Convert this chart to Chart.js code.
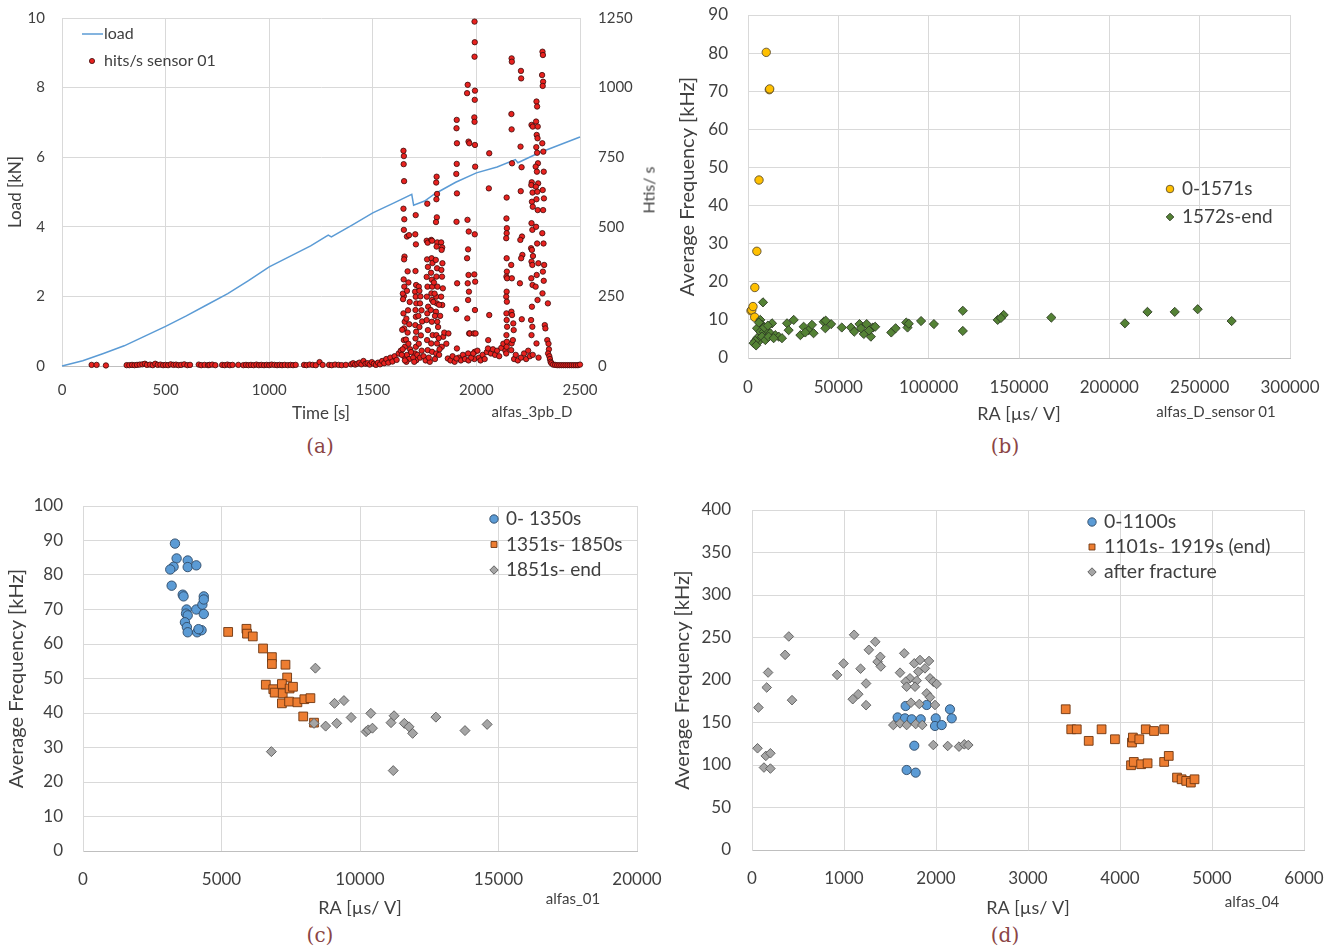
<!DOCTYPE html>
<html>
<head>
<meta charset="utf-8">
<script src="https://cdn.jsdelivr.net/npm/chart.js@4.4.0/dist/chart.umd.min.js"></script>
<style>
  body { margin: 0; background: #fff; width: 1338px; height: 948px; position: relative; overflow: hidden; font-family: Lato, sans-serif; color: #404040; }
  .panel { position: absolute; }
  .note { position: absolute; font-size: 15px; transform: translate(-50%, -50%); white-space: nowrap; }
  .cap { position: absolute; font-family: 'DejaVu Serif', serif; font-size: 20px; color: #8b4545; transform: translate(-50%, -50%); }
  .rot { position: absolute; font-size: 16px; white-space: nowrap; transform: translate(-50%, -50%) rotate(-90deg); }
</style>
</head>
<body>
<div class="panel" style="left:0;top:0"><canvas id="ca" width="670" height="430"></canvas></div>
<div class="panel" style="left:670px;top:0"><canvas id="cb" width="668" height="430"></canvas></div>
<div class="panel" style="left:0;top:480px"><canvas id="cc" width="670" height="440"></canvas></div>
<div class="panel" style="left:670px;top:480px"><canvas id="cd" width="668" height="440"></canvas></div>

<div class="rot" style="left:648px;top:190px">Htis/ s</div>
<div class="note" style="left:532px;top:411px">alfas_3pb_D</div>
<div class="note" style="left:1216px;top:411px">alfas_D_sensor 01</div>
<div class="note" style="left:573px;top:898px">alfas_01</div>
<div class="note" style="left:1252px;top:901px">alfas_04</div>
<div class="cap" style="left:320px;top:446px">(a)</div>
<div class="cap" style="left:1005px;top:446px">(b)</div>
<div class="cap" style="left:320px;top:935px">(c)</div>
<div class="cap" style="left:1005px;top:935px">(d)</div>

<script>
// (a) load curve and hit rate
const loadTime = [0, 100, 200, 300, 400, 500, 600, 700, 800, 900, 1000, 1100, 1200, 1285, 1300, 1400, 1500, 1600, 1688, 1697, 1750, 1800, 1900, 2000, 2100, 2188, 2200, 2300, 2400, 2500];
const loadKN   = [0, 0.15, 0.36, 0.58, 0.86, 1.14, 1.44, 1.76, 2.08, 2.45, 2.85, 3.15, 3.45, 3.76, 3.71, 4.05, 4.40, 4.68, 4.93, 4.62, 4.74, 4.95, 5.28, 5.55, 5.72, 5.93, 5.84, 6.12, 6.35, 6.58];

const hitsTime = [
  143,167,212,312,325,338,350,362,375,388,400,410,425,438,450,462,475,488,500,512,
  525,538,550,562,575,590,605,618,660,672,688,705,712,725,740,773,785,798,810,823,
  851,875,888,900,912,925,938,950,962,975,988,1000,1012,1025,1038,1050,1062,1075,1090,1103,
  1115,1128,1168,1180,1195,1210,1225,1243,1258,1289,1302,1318,1335,1350,1370,1395,1405,1415,1425,1435,
  1445,1455,1465,1475,1485,1495,1505,1515,1525,1535,1545,1555,1565,1575,1585,1595,1605,1615,1625,1635,
  1648,1650,1649,1651,1648,1652,1650,1653,1651,1649,1652,1650,1648,1654,1651,1650,1655,1652,1645,1646,
  1642,1644,1665,1675,1668,1672,1665,1678,1670,1662,1676,1668,1660,1672,1680,1665,1675,1662,1640,1655,
  1707,1705,1708,1706,1709,1704,1707,1710,1706,1708,1705,1709,1706,1708,1704,1710,1685,1695,1700,1715,
  1722,1725,1730,1728,1735,1720,1738,1725,1732,1722,1736,1728,1745,1755,1775,
  1763,1760,1765,1762,1766,1760,1764,1761,1767,1763,1760,1766,1762,1765,1770,
  1782,1786,1784,1788,1781,1785,1787,1783,1786,1780,1785,1789,1782,1786,
  1808,1806,1810,1807,1809,1805,1811,1808,1804,1810,1807,1812,1806,1809,1805,1811,1807,1810,1806,
  1830,1835,1832,1836,1831,1834,1838,1830,1835,1840,1833,1795,1798,1792,1800,1820,1825,1815,1818,1822,
  1845,1855,1800,1820,1865,1862,1875,1885,1895,1915,1925,1935,1945,
  1905,1904,1906,1905,1903,1906,1904,1907,1903,1906,1904,
  1958,1955,1962,1966,1957,1963,1960,1955,1962,1958,1964,1960,1956,1965,1968,1960,1962,
  1991,1992,1991,1993,1992,1990,1991,1993,1994,1992,1990,1994,1993,1988,1996,1992,1990,
  1975,1985,2005,2012,2020,2030,2040,2050,2062,2060,2062,2057,2056,2070,2080,2090,2100,2110,2120,2130,
  2140,2146,2145,2147,2146,2144,2146,2147,2145,2148,2146,2144,2147,2145,2146,2148,2145,2147,2146,2144,
  2170,2171,2169,2170,2172,2168,2171,2169,2172,2170,2168,2178,2180,2176,2182,2190,2200,
  2215,2216,2213,2218,2214,2220,2212,2222,2216,2210,2219,2215,2230,2240,2250,2258,
  2266,2272,2267,2271,2265,2268,2272,2266,2270,2264,2268,2273,2266,2270,2265,2271,2268,2264,2270,2266,2272,
  2290,2293,2288,2296,2291,2295,2289,2293,2297,2286,2292,2298,2287,2294,2290,2296,2288,2293,2299,2291,2286,2295,2290,2300,
  2319,2321,2317,2322,2320,2318,2323,2325,2320,2326,2322,2318,2324,2327,2321,2325,2319,2330,2333,
  2345,2342,2348,2350,2346,2352,2355,2358,2362,2370,2380,2390,2400,2410,2420,2430,2440,2450,2460,2470,2480,2490,2500
];
const hitsRate = [
  4,4,2,3,3,4,3,4,5,6,8,4,5,3,8,4,5,3,4,3,
  6,4,5,3,4,6,3,4,5,3,4,3,4,5,3,4,3,5,3,4,
  4,3,4,3,4,3,5,3,4,3,4,3,5,4,3,4,3,4,3,4,
  3,4,4,3,5,4,3,14,4,4,3,5,4,3,4,6,10,5,8,12,
  6,18,8,10,5,14,8,4,12,6,18,10,25,12,30,16,35,22,45,55,
  773,754,725,664,565,527,489,393,383,311,285,251,189,159,135,93,69,34,260,240,
  130,60,465,470,340,300,270,230,200,170,150,120,95,80,60,40,25,15,40,20,
  542,473,437,341,291,267,249,225,201,177,147,123,99,69,45,21,50,30,15,40,
  285,270,250,225,200,180,160,140,110,80,55,30,35,20,15,
  583,450,443,383,356,320,285,249,213,189,165,129,93,57,30,
  453,450,387,370,335,310,285,261,237,201,159,111,81,51,
  680,659,618,599,534,517,444,429,381,351,321,285,249,225,195,159,111,81,45,
  444,426,417,369,345,321,279,249,219,105,69,300,260,230,180,220,180,140,100,60,
  120,80,25,40,117,27,20,35,15,30,20,40,25,
  884,854,800,726,690,620,518,297,204,63,27,
  1010,980,806,800,525,483,419,387,327,297,267,237,171,117,117,45,20,
  1237,1163,1111,989,956,893,877,794,716,473,329,303,201,117,117,51,25,
  30,45,55,30,20,40,25,50,764,638,183,93,63,45,60,40,55,35,65,80,
  55,605,530,495,477,459,387,339,321,315,267,249,231,189,165,141,111,87,69,45,
  1105,1093,905,850,728,363,315,195,183,81,57,153,129,93,25,40,20,
  1060,1033,788,714,628,465,453,399,387,297,168,30,45,25,55,35,
  866,860,660,623,650,590,572,513,489,423,417,395,375,363,315,291,213,165,141,111,40,
  950,932,878,860,830,818,786,766,728,716,698,656,644,626,599,560,500,440,369,327,285,237,81,30,
  1129,1117,1045,1021,1006,800,770,698,632,602,560,477,440,363,339,306,261,147,135,
  225,93,80,60,45,35,25,15,10,5,4,3,3,3,3,3,3,3,3,3,3,3,5
];

// (b) average frequency vs RA, sensor 01
const bEarlyRA = [1660, 2100, 2770, 3700, 3770, 4900, 6100, 10100, 11800, 12000];
const bEarlyAF = [12.4, 12.6, 13.5, 10.7, 18.5, 28, 46.7, 80.2, 70.4, 70.6];
const bLateRA = [8300, 6800, 7750, 13300, 5000, 6800, 8700, 10500, 12300, 15100, 17000, 18800, 5000, 5900, 4000, 7750, 9600, 11400, 14200, 3100,
  4500, 6000, 9000, 11000, 21600, 25300, 22500, 30800, 29000, 33600, 35400, 41900, 42800, 31700, 36300, 46000, 51900, 57000, 58800, 61700,
  64100, 65700, 68000, 69200, 70400, 79300, 81700, 87600, 88300, 95800, 102900, 118900, 118900, 138200, 141500, 167900, 208600, 221100, 236200, 248900,
  267700, 43000, 62500, 67000, 89000, 140000];
const bLateAF = [14.6, 10, 8.7, 9.1, 7.8, 6.9, 6.9, 7.3, 6.5, 6, 5.6, 5.2, 5.2, 4.3, 4.5, 5.6, 4.7, 5.6, 5.2, 3.9,
  3.3, 9.3, 8, 8.5, 9.1, 10, 7.3, 8.2, 6, 7.3, 8.7, 9.5, 7.8, 6.7, 6.5, 8.9, 8, 8, 6.9, 8.9,
  6.3, 8.9, 5.6, 8, 8.2, 6.7, 7.8, 9.3, 8, 9.7, 8.9, 12.4, 7.1, 10, 11.3, 10.6, 9.1, 12.1, 12.1, 12.8,
  9.7, 9.8, 7.8, 7.2, 9.0, 10.5];

// (c) alfas_01
const cFirstRA = [3320, 3380, 3270, 3150, 3200, 3780, 3780, 4090, 3600, 3630, 3740, 3720, 3780, 3680, 3750, 3780, 4090, 4120, 4280, 4310, 4360, 4360, 4360, 4170];
const cFirstAF = [89.1, 84.8, 82.4, 81.6, 76.9, 84.2, 82.3, 82.8, 74.3, 73.8, 70, 68.8, 68.3, 66.3, 64.9, 63.4, 70, 63.4, 64, 71.4, 73.8, 72.9, 68.7, 64.3];
const cMidRA = [5240, 5900, 5920, 6130, 6500, 6820, 6820, 7310, 7370, 6600, 6870, 6920, 7180, 7210, 7180, 7440, 7460, 7580, 7740, 7990, 8210, 7950, 8340];
const cMidAF = [63.5, 64.4, 63, 62.2, 58.7, 56.2, 54.2, 54, 50.3, 48.2, 46.9, 45.9, 48.4, 45.7, 42.8, 43.3, 47.1, 47.6, 43.1, 44, 44.3, 39, 37.2];
const cEndRA = [8390, 6800, 8340, 8760, 9080, 9160, 9420, 9680, 10220, 10300, 10390, 10450, 11120, 11230, 11200, 11600, 11770, 11900, 12740, 13790, 14590];
const cEndAF = [53, 28.8, 37, 36.2, 42.8, 37, 43.6, 38.7, 34.6, 35.1, 39.9, 35.6, 37.2, 39.2, 23.3, 37, 36, 34.1, 38.8, 34.9, 36.7];

// (d) alfas_04
const dFirstRA = [1670, 1899, 2152, 1583, 1663, 1736, 1834, 1997, 1989, 2062, 2171, 1764, 1681, 1779];
const dFirstAF = [169.4, 170.6, 165.5, 156, 154.9, 153.8, 153.8, 154.9, 145.9, 147, 154.9, 122.7, 94.1, 91];
const dMidRA = [3410, 3470, 3530, 3660, 3800, 3945, 4130, 4140, 4210, 4280, 4370, 4480, 4120, 4150, 4230, 4300, 4480, 4530, 4620, 4670, 4720, 4770, 4810];
const dMidAF = [165.6, 142, 142, 128.4, 142, 130.3, 126.4, 132.3, 130.3, 142, 140, 142, 99.7, 103.6, 100.9, 102, 103.6, 110.7, 85.2, 83.2, 81.3, 79.3, 83.2];
const dAfterRA = [70, 60, 150, 200, 130, 200, 175, 160, 360, 400, 435,
  925, 995, 1110, 1095, 1155, 1180, 1240, 1240, 1270, 1340, 1365, 1395, 1400,
  1655, 1764, 1826, 1924, 1880, 1609, 1808, 1717, 1670, 1790, 1935, 1971, 2007, 1681, 1772, 1899, 1935, 1728, 1819, 1989,
  1536, 1609, 1681, 1779, 1851, 1971, 2127, 2250, 2308, 2351];
const dAfterAF = [167.6, 119.7, 110.7, 113.8, 97, 95.8, 208.8, 191.2, 229.6, 251.2, 176.3,
  206, 219.4, 253.2, 177.4, 183.3, 213.3, 195.9, 170.4, 235.5, 245, 221.4, 227.3, 215.9,
  231.4, 219.6, 223.5, 222.4, 213.7, 208.6, 209.8, 202, 198, 199.2, 202, 198, 195.3, 192.1, 192.1, 184.3, 179.6, 173.3, 171.8, 170.6,
  147, 149, 147, 148.2, 147, 123.5, 122.4, 121.6, 124.3, 123.5];

const INK = '#404040', GRID = '#d9d9d9';
const pts = (xs, ys) => xs.map((x, i) => ({ x, y: ys[i] }));

// legend drawn inside the plot, Excel style
const keyBox = {
  id: 'keyBox',
  afterDatasetsDraw(chart, args, o) {
    if (!o || o.x == null) return;
    const c = chart.ctx;
    c.save();
    c.font = `${o.size}px Lato`;
    c.textBaseline = 'middle';
    chart.data.datasets.forEach((d, i) => {
      const y = o.y + i * o.gap;
      c.fillStyle = d.backgroundColor; c.strokeStyle = d.borderColor; c.lineWidth = d.borderWidth;
      if (d.showLine) { c.beginPath(); c.moveTo(o.x - 10, y); c.lineTo(o.x + 11, y); c.stroke(); }
      else Chart.helpers.drawPoint(c, { pointStyle: d.pointStyle, radius: o.r, borderWidth: d.borderWidth }, o.x, y);
      c.fillStyle = INK;
      c.fillText(d.label, o.x + o.dx, y);
    });
    c.restore();
  }
};

// fixed axis boxes so every plot area lands where the figure has it
function lin(min, max, step, o) {
  const s = {
    type: 'linear', min, max,
    afterFit: sc => {
      if (sc.isHorizontal()) sc.height = o.fit; else sc.width = o.fit;
      sc.paddingTop = sc.paddingBottom = sc.paddingLeft = sc.paddingRight = 0;
    },
    ticks: { stepSize: step, color: INK, font: { family: 'Lato', size: o.ts }, padding: o.tp, maxRotation: 0, autoSkip: false, callback: v => String(v) },
    grid: { display: o.grid !== false, color: GRID, drawTicks: false },
    border: { display: o.grid !== false, color: o.bc || GRID },
    title: { display: !!o.title, text: o.title || '', color: INK, font: { family: 'Lato', size: o.tf }, padding: o.tpad || 0 }
  };
  if (o.pos) s.position = o.pos;
  return s;
}

function mark(label, data, style, r, fill, edge, order) {
  return { label, data, pointStyle: style, pointRadius: r, backgroundColor: fill, borderColor: edge, borderWidth: 0.9, order, clip: false };
}

function make(id, datasets, scales, pad, key) {
  return new Chart(document.getElementById(id), {
    type: 'scatter',
    data: { datasets },
    options: {
      responsive: false, animation: false, events: [],
      layout: { padding: pad, autoPadding: false },
      scales,
      plugins: { legend: { display: false }, tooltip: { enabled: false }, keyBox: key }
    },
    plugins: [keyBox]
  });
}

// (a)
make('ca', [
  { label: 'load', data: pts(loadTime, loadKN), showLine: true, pointRadius: 0, borderColor: '#5b9bd5', backgroundColor: '#5b9bd5', borderWidth: 1.5, yAxisID: 'y', order: 1, clip: false },
  { ...mark('hits/s sensor 01', pts(hitsTime, hitsRate), 'circle', 2.7, '#e8221f', '#3a0a0a', 0), yAxisID: 'y2', borderWidth: 0.8 }
], {
  x: lin(0, 2500, 500, { fit: 64, ts: 15, tp: 15, title: 'Time [s]', tf: 17, tpad: { top: 0, bottom: 6 }, bc: '#bfbfbf' }),
  y: lin(0, 10, 2, { fit: 62, ts: 15, tp: 17, title: 'Load [kN]', tf: 17, tpad: { top: 5, bottom: 0 } }),
  y2: lin(0, 1250, 250, { pos: 'right', fit: 90, ts: 15, tp: 18, grid: false })
}, { top: 18, right: 0, left: 0, bottom: 0 }, { x: 92, y: 34, gap: 27, dx: 12, size: 16, r: 2.6 });

// (b)
make('cb', [
  mark('0-1571s', pts(bEarlyRA, bEarlyAF), 'circle', 4.2, '#ffc000', '#5f5030', 1),
  mark('1572s-end', pts(bLateRA, bLateAF), 'rectRot', 4.6, '#548235', '#2d3b22', 0)
], {
  x: lin(0, 300000, 50000, { fit: 72, ts: 17, tp: 19, title: 'RA [µs/ V]', tf: 18, tpad: { top: 0, bottom: 5 }, bc: '#bfbfbf' }),
  y: lin(0, 90, 10, { fit: 78, ts: 17, tp: 20, title: 'Average Frequency [kHz]', tf: 20, tpad: { top: 6, bottom: 0 } })
}, { top: 15, right: 48, left: 0, bottom: 0 }, { x: 500, y: 189, gap: 28, dx: 12, size: 19, r: 3.8 });

// (c)
make('cc', [
  mark('0- 1350s', pts(cFirstRA, cFirstAF), 'circle', 4.7, '#5b9bd5', '#2f4a66', 2),
  mark('1351s- 1850s', pts(cMidRA, cMidAF), 'rect', 6.2, '#ed7d31', '#6e3510', 1),
  mark('1851s- end', pts(cEndRA, cEndAF), 'rectRot', 5, '#a5a5a5', '#5a5a5a', 0)
], {
  x: lin(0, 20000, 5000, { fit: 69, ts: 17, tp: 18, title: 'RA [µs/ V]', tf: 18, tpad: { top: 0, bottom: 1 }, bc: '#bfbfbf' }),
  y: lin(0, 100, 10, { fit: 83, ts: 17, tp: 20, title: 'Average Frequency [kHz]', tf: 20, tpad: { top: 5, bottom: 0 } })
}, { top: 26, right: 33, left: 0, bottom: 0 }, { x: 494, y: 39, gap: 25.5, dx: 12, size: 19, r: 4.2 });

// (d)
make('cd', [
  mark('0-1100s', pts(dFirstRA, dFirstAF), 'circle', 4.6, '#5b9bd5', '#2f4a66', 2),
  mark('1101s- 1919s (end)', pts(dMidRA, dMidAF), 'rect', 6.2, '#ed7d31', '#6e3510', 1),
  mark('after fracture', pts(dAfterRA, dAfterAF), 'rectRot', 4.8, '#a5a5a5', '#5a5a5a', 0)
], {
  x: lin(0, 6000, 1000, { fit: 70, ts: 17, tp: 18, title: 'RA [µs/ V]', tf: 18, tpad: { top: 0, bottom: 1 }, bc: '#bfbfbf' }),
  y: lin(0, 400, 50, { fit: 82, ts: 17, tp: 21, title: 'Average Frequency [kHz]', tf: 20, tpad: { top: 1, bottom: 0 } })
}, { top: 30, right: 34, left: 0, bottom: 0 }, { x: 422, y: 42, gap: 25, dx: 12, size: 19.5, r: 4.2 });
</script>
</body>
</html>
